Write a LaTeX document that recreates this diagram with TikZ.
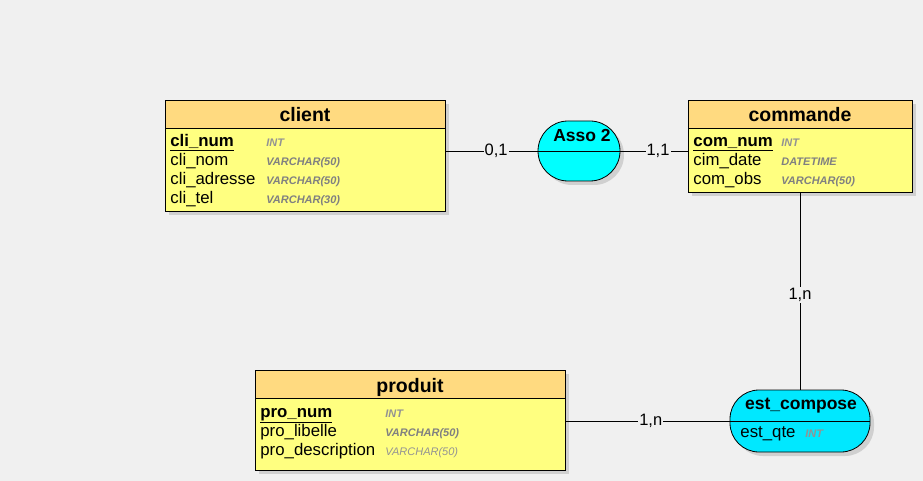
\documentclass[tikz,border=0pt]{standalone}
\usepackage{fontspec}
\setmainfont{Liberation Sans}
\usetikzlibrary{shadows}
\definecolor{bgcol}{RGB}{240,240,240}
\definecolor{headcol}{RGB}{255,218,128}
\definecolor{bodycol}{RGB}{255,255,128}
\definecolor{assocol}{RGB}{0,255,255}
\definecolor{estcol}{RGB}{0,232,255}
\definecolor{typecol}{RGB}{128,128,128}
\begin{document}
\begin{tikzpicture}[x=1pt, y=-1pt, line width=0.8pt,
  ent/.style = {draw, fill=bodycol, inner sep=0pt, drop shadow={shadow xshift=4pt, shadow yshift=-4pt, fill=black!30}},
  head/.style = {draw, fill=headcol, inner sep=0pt, minimum height=28, text height=17pt, text depth=1pt, anchor=north, font=\fontsize{19.5}{20}\selectfont\bfseries},
  asso/.style = {draw, inner sep=0pt, drop shadow={shadow xshift=4pt, shadow yshift=-4pt, fill=black!30}},
  atitle/.style = {font=\fontsize{17.5}{18}\selectfont\bfseries},
  attr/.style = {anchor=base west, inner sep=0pt, font=\fontsize{16.8}{17}\selectfont},
  type/.style = {anchor=base west, inner sep=0pt, text=typecol, font=\fontsize{11}{12}\selectfont\bfseries\itshape},
  typelight/.style = {anchor=base west, inner sep=0pt, text=typecol!85, font=\fontsize{11}{12}\selectfont\itshape},
  lab/.style = {fill=bgcol, inner sep=1pt, font=\fontsize{16.5}{17}\selectfont}]
\fill[bgcol] (0,0) rectangle (923,481);
\useasboundingbox (0,0) rectangle (923,481);

% entities
\node[ent, minimum width=280, minimum height=111] (client) at (305,155.5) {};
\node[head, minimum width=280] (client-h) at (client.north) {client};
\node[attr] (cli1) at (170,147) {\bfseries\underline{cli\_num}};
\node[attr] (cli2) at (170,166) {cli\_nom};
\node[attr] (cli3) at (170,185) {cli\_adresse};
\node[attr] (cli4) at (170,204) {cli\_tel};
\node[typelight] (clit1) at (266,147) {\bfseries INT};
\node[type] (clit2) at (266,166) {VARCHAR(50)};
\node[type] (clit3) at (266,185) {VARCHAR(50)};
\node[type] (clit4) at (266,204) {VARCHAR(30)};

\node[ent, minimum width=224, minimum height=92] (cmd) at (800,146) {};
\node[head, minimum width=224] (cmd-h) at (cmd.north) {commande};
\node[attr] (cmd1) at (693,147) {\bfseries\underline{com\_num}};
\node[attr] (cmd2) at (693,166) {cim\_date};
\node[attr] (cmd3) at (693,185) {com\_obs};
\node[typelight] (cmdt1) at (781,147) {\bfseries INT};
\node[type] (cmdt2) at (781,166) {DATETIME};
\node[type] (cmdt3) at (781,185) {VARCHAR(50)};

\node[ent, minimum width=310, minimum height=100] (prod) at (410,420) {};
\node[head, minimum width=310] (prod-h) at (prod.north) {produit};
\node[attr] (pro1) at (260,417) {\bfseries\underline{pro\_num}};
\node[attr] (pro2) at (260,436) {pro\_libelle};
\node[attr] (pro3) at (260,455) {pro\_description};
\node[typelight] (prot1) at (385,417) {\bfseries INT};
\node[type] (prot2) at (385,436) {VARCHAR(50)};
\node[typelight] (prot3) at (385,455) {VARCHAR(50)};

% associations
\node[asso, rounded corners=30pt, fill=assocol, minimum width=82, minimum height=60] (asso2) at (579,151) {};
\draw (asso2.west) -- (asso2.east);
\node[atitle] (asso2-t) at (582,135) {Asso 2};

\node[asso, rounded corners=29pt, fill=estcol, minimum width=140, minimum height=62] (estc) at (800,421) {};
\draw (estc.west) -- (estc.east);
\node[atitle] (estc-t) at (801,406) {est\_compose};
\node[attr] (est1) at (740,437) {est\_qte};
\node[typelight] (estt1) at (805,437) {\bfseries INT};

% links
\draw (client.east |- asso2.west) -- node[lab, pos=.55] {0,1} (asso2.west);
\draw (asso2.east) -- node[lab, pos=.56] {1,1} (cmd.west |- asso2.east);
\draw (cmd.south) -- node[lab, pos=.52] {1,n} (estc.north);
\draw (prod.east |- estc.west) -- node[lab, pos=.52] {1,n} (estc.west);
\end{tikzpicture}
\end{document}
